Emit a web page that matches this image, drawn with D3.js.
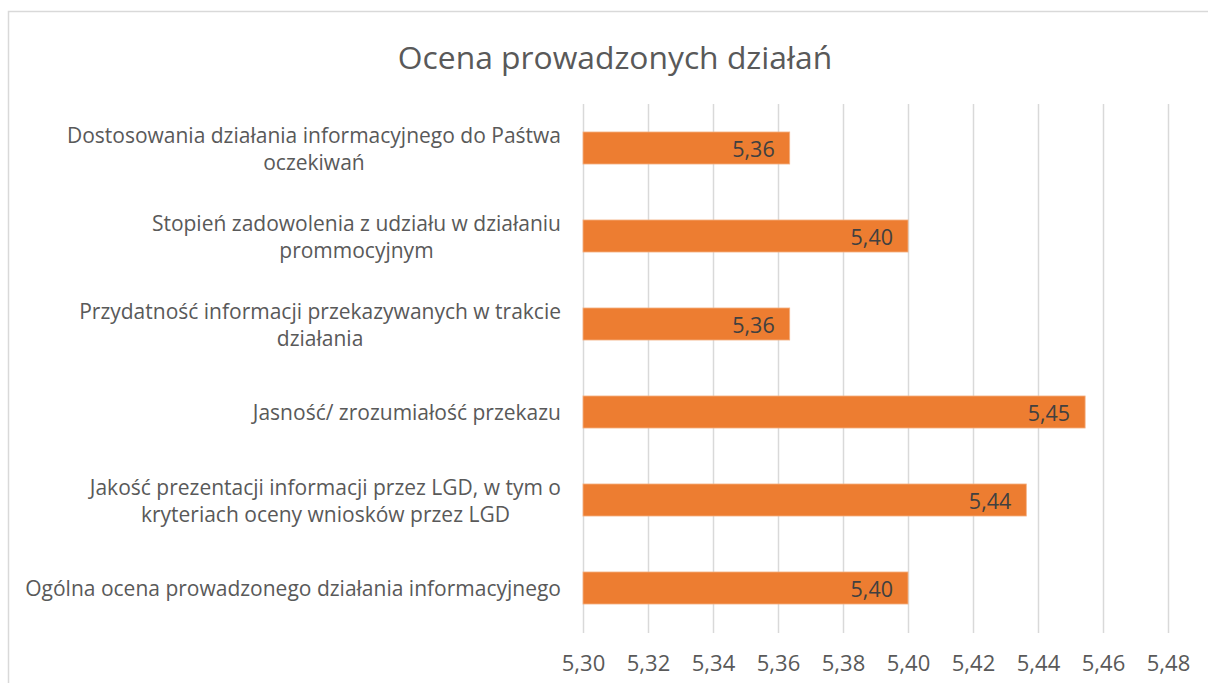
<!DOCTYPE html>
<html>
<head>
<meta charset="utf-8">
<script src="https://d3js.org/d3.v7.min.js"></script>
<style>
  body { margin: 0; background: #fff; }
  text { font-family: 'Open Sans', sans-serif; }
</style>
</head>
<body>
<div id="chart"></div>
<script>
  // Chart data
  const title = 'Ocena prowadzonych działań';
  const categories = [
    'Dostosowania działania informacyjnego do Paśtwa\noczekiwań',
    'Stopień zadowolenia z udziału w działaniu\nprommocyjnym',
    'Przydatność informacji przekazywanych w trakcie\ndziałania',
    'Jasność/ zrozumiałość przekazu',
    'Jakość prezentacji informacji przez LGD, w tym o\nkryteriach oceny wniosków przez LGD',
    'Ogólna ocena prowadzonego działania informacyjnego'
  ];
  const values = [5.3636, 5.40, 5.3636, 5.4545, 5.4364, 5.40];
  const xTicks = [5.30, 5.32, 5.34, 5.36, 5.38, 5.40, 5.42, 5.44, 5.46, 5.48];

  const width = 1208, height = 683;
  const plot = {left: 583, right: 1168, top: 104, bottom: 632};

  const plLocale = d3.formatLocale({decimal: ',', thousands: ' ', grouping: [3], currency: ['', ' zł']});
  const fmt = plLocale.format('.2f');

  const svg = d3.select('#chart')
    .append('svg')
    .attr('width', width)
    .attr('height', height);

  svg.append('rect')
    .attr('width', width).attr('height', height)
    .style('fill', '#fff');

  // chart frame
  svg.append('rect')
    .attr('x', 8.5).attr('y', 11.5)
    .attr('width', width).attr('height', height)
    .style('fill', 'none')
    .style('stroke', '#d9d9d9')
    .style('stroke-width', 1.5);

  svg.append('text')
    .attr('x', 615).attr('y', 56)
    .attr('text-anchor', 'middle')
    .attr('dominant-baseline', 'central')
    .style('font-size', '31.8px')
    .style('fill', '#595959')
    .text(title);

  const x = d3.scaleLinear().domain([5.30, 5.48]).range([plot.left, plot.right]);
  const y = d3.scaleBand()
    .domain(categories)
    .range([plot.top, plot.bottom])
    .paddingInner(0.636)
    .paddingOuter(0.318);

  // gridlines
  svg.append('g')
    .selectAll('line')
    .data(xTicks)
    .enter()
    .append('line')
    .attr('x1', d => Math.round(x(d)) + 0.5)
    .attr('x2', d => Math.round(x(d)) + 0.5)
    .attr('y1', plot.top)
    .attr('y2', plot.bottom + 1)
    .style('stroke', '#d9d9d9')
    .style('stroke-width', 1.5);

  // x tick labels
  const xAxis = svg.append('g')
    .attr('transform', `translate(0, ${plot.bottom})`)
    .call(d3.axisBottom(x).tickValues(xTicks).tickFormat(fmt).tickSize(0));
  xAxis.select('.domain').remove();
  xAxis.selectAll('text')
    .attr('y', 30)
    .attr('dy', null)
    .attr('dominant-baseline', 'central')
    .style('font-family', "'Open Sans', sans-serif")
    .style('font-size', '22px')
    .style('fill', '#595959');

  // bars
  svg.append('g')
    .selectAll('rect')
    .data(values)
    .enter()
    .append('rect')
    .attr('x', x(5.30))
    .attr('y', (d, i) => y(categories[i]))
    .attr('width', d => x(d) - x(5.30))
    .attr('height', y.bandwidth())
    .style('fill', '#ed7d31')
    .style('stroke', '#f4b183')
    .style('stroke-width', 0.8);

  // value labels
  svg.append('g')
    .selectAll('text')
    .data(values)
    .enter()
    .append('text')
    .attr('x', d => x(d) - 15)
    .attr('y', (d, i) => y(categories[i]) + y.bandwidth() / 2)
    .attr('text-anchor', 'end')
    .attr('dominant-baseline', 'central')
    .style('font-size', '21.5px')
    .style('fill', '#404040')
    .text(d => fmt(d));

  // category labels: centred lines, block right-aligned
  const labelRight = 561;
  const lineH = 27;
  categories.forEach(function(cat, i) {
    const lines = cat.split('\n');
    const cy = y(cat) + y.bandwidth() / 2;
    const t = svg.append('text')
      .attr('text-anchor', 'middle')
      .attr('dominant-baseline', 'central')
      .style('font-size', '21px')
      .style('fill', '#595959');
    lines.forEach(function(line, j) {
      t.append('tspan')
        .attr('y', cy + (j - (lines.length - 1) / 2) * lineH)
        .text(line);
    });
    let maxW = 0;
    t.selectAll('tspan').each(function() {
      maxW = Math.max(maxW, this.getComputedTextLength());
    });
    t.selectAll('tspan').attr('x', labelRight - maxW / 2);
  });
</script>
</body>
</html>
